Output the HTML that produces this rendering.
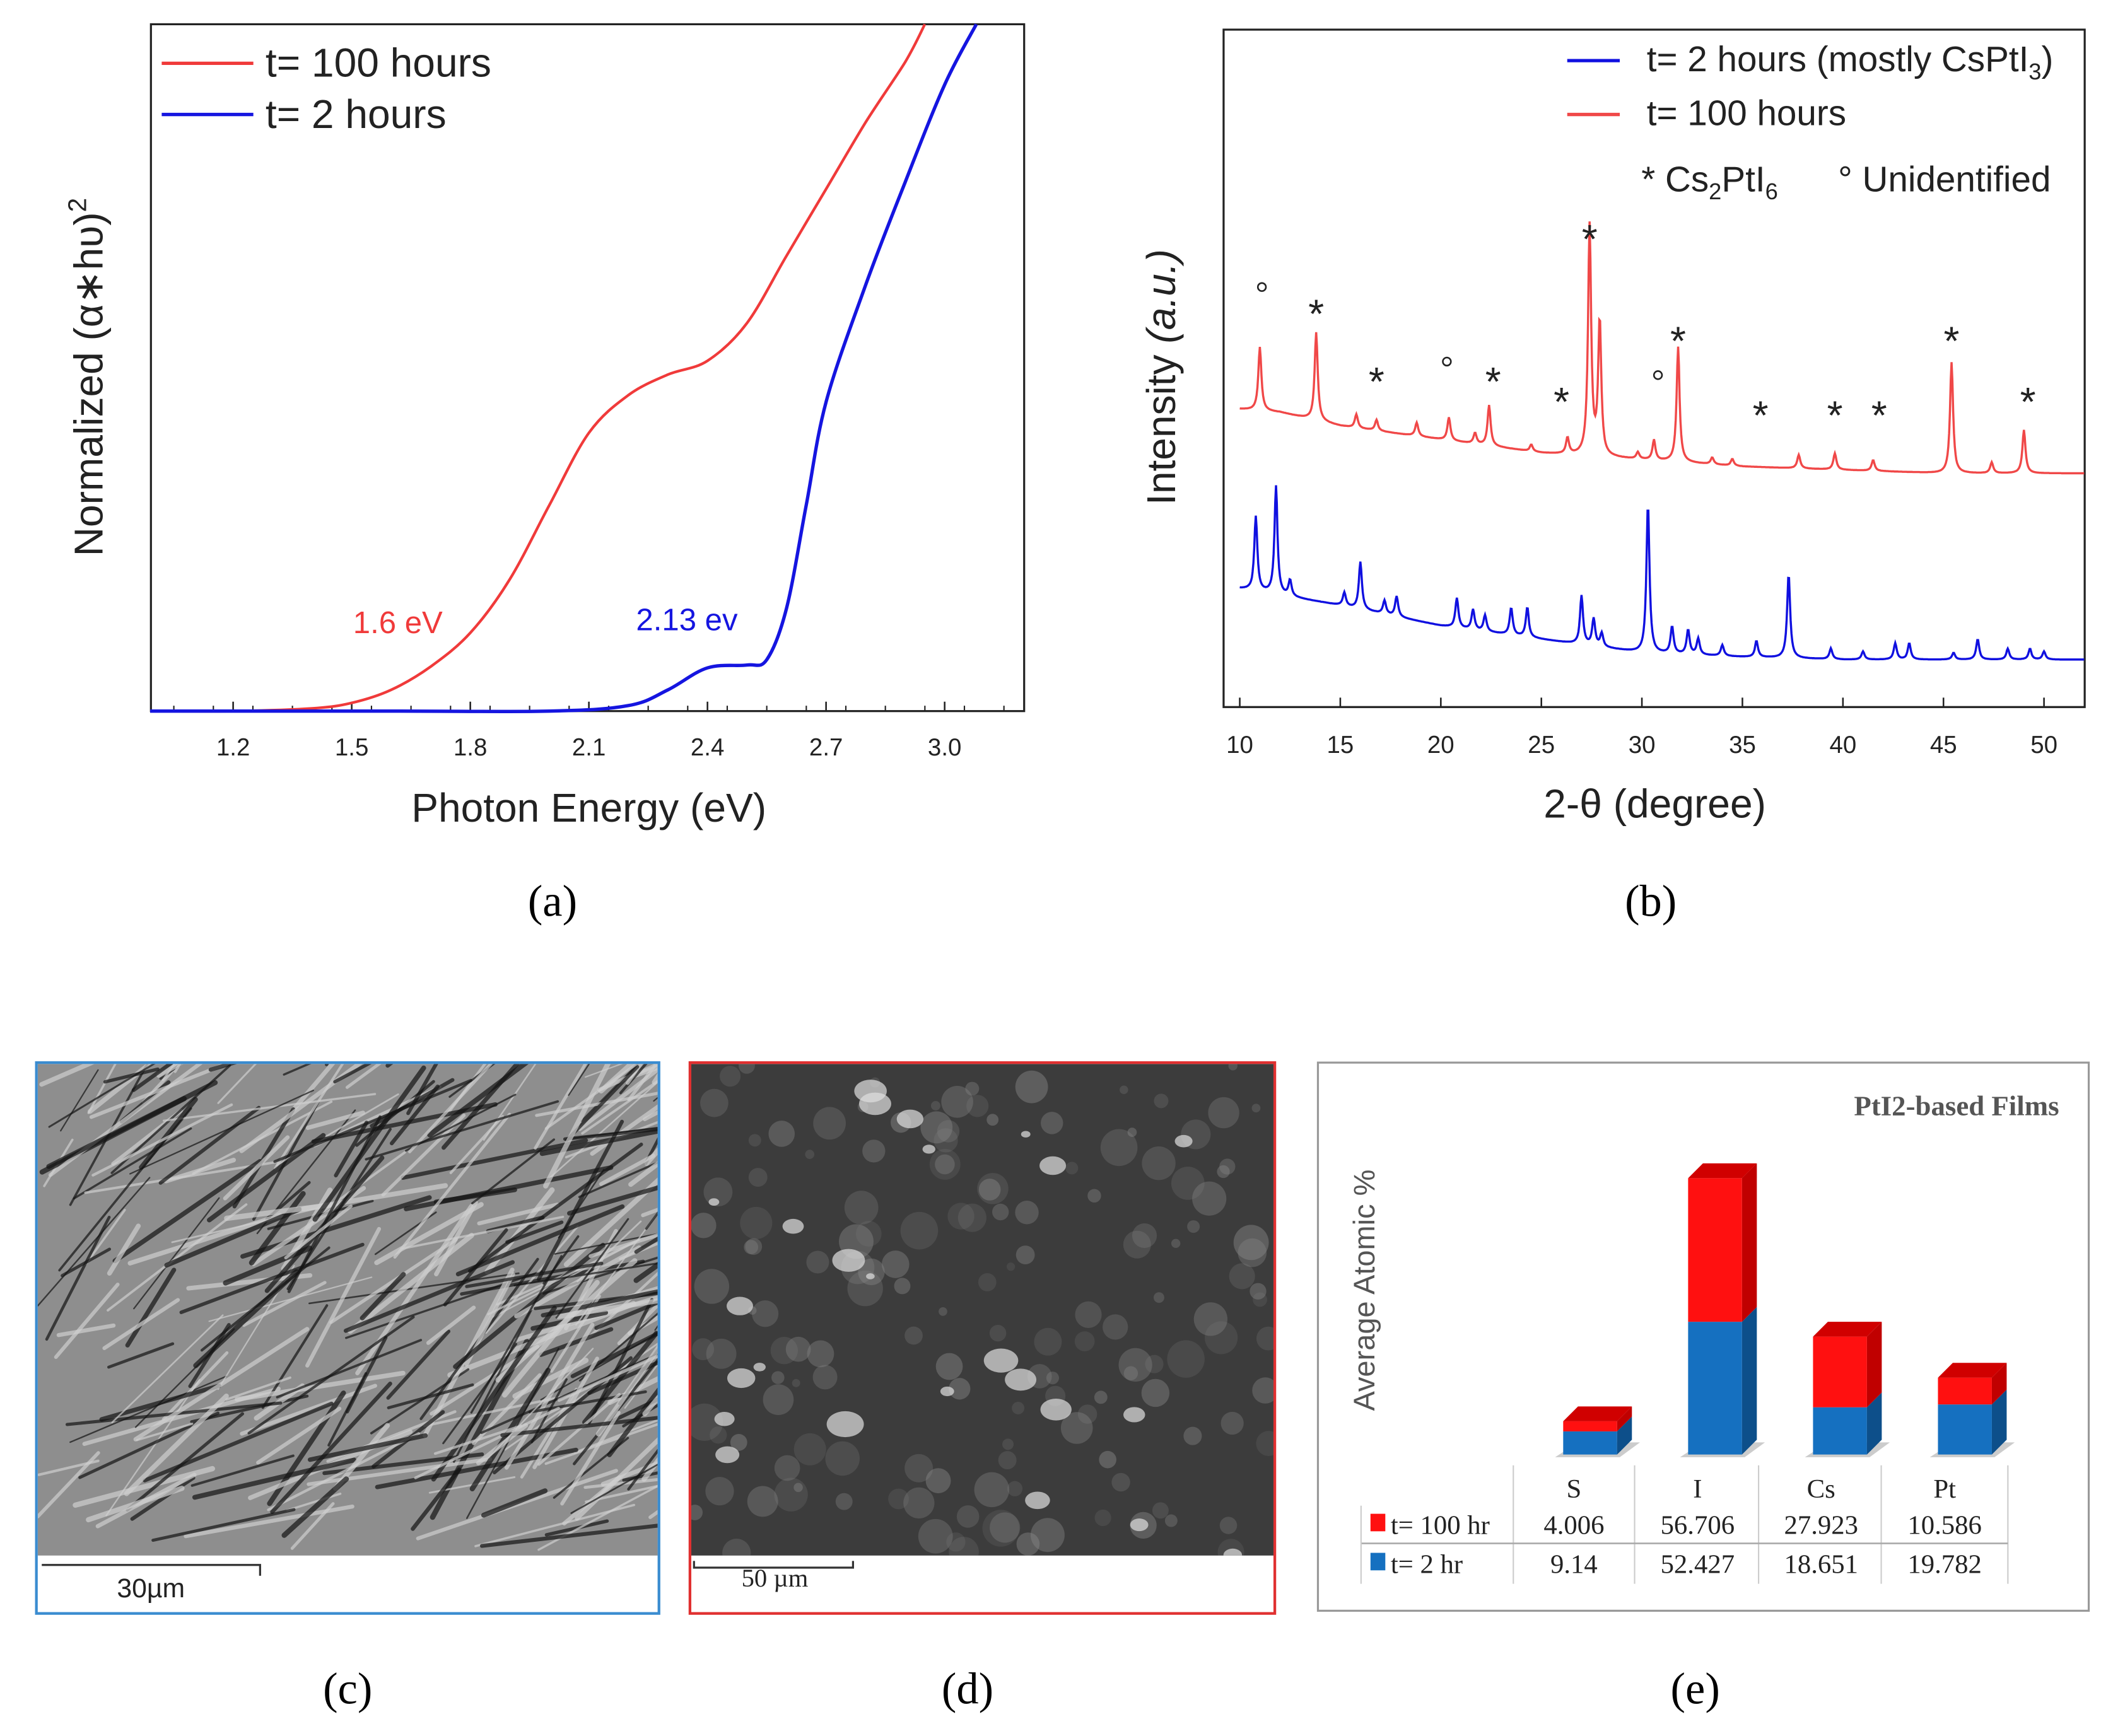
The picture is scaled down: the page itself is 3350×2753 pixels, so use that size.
<!DOCTYPE html>
<html><head><meta charset="utf-8"><style>html,body{margin:0;padding:0;background:#fff}svg{display:block}</style></head>
<body>
<svg id="fig" xmlns="http://www.w3.org/2000/svg" width="3350" height="2753" viewBox="0 0 1568 1289" preserveAspectRatio="none" font-family="Liberation Sans, sans-serif">
<rect width="1568" height="1289" fill="#fff"/>
<!-- Panel a -->
<g>
<rect x="112" y="18" width="648" height="510" fill="none" stroke="#222" stroke-width="1.5"/>
<g id="aTicks"></g>
<path id="aRed" fill="none" stroke="#f03a3a" stroke-width="2"/>
<path id="aBlue" fill="none" stroke="#1515e0" stroke-width="2.5"/>
<line x1="120" y1="47" x2="188" y2="47" stroke="#f03a3a" stroke-width="2.5"/>
<text x="197" y="57" font-size="30" fill="#222">t= 100 hours</text>
<line x1="120" y1="85" x2="188" y2="85" stroke="#1515e0" stroke-width="2.5"/>
<text x="197" y="95" font-size="30" fill="#222">t= 2 hours</text>
<text x="262" y="470" font-size="23" fill="#f03a3a">1.6 eV</text>
<text x="472" y="468" font-size="23" fill="#1515e0">2.13 ev</text>
<text x="437" y="610" font-size="30" fill="#222" text-anchor="middle">Photon Energy (eV)</text>
<text transform="translate(76,280) rotate(-90)" font-size="30" fill="#222" text-anchor="middle">Normalized (α∗hυ)<tspan font-size="19" dy="-12">2</tspan></text>
<text x="410" y="680" font-size="33" font-family="Liberation Serif, serif" text-anchor="middle">(a)</text>
</g>
<!-- Panel b -->
<g>
<rect x="908" y="22" width="639" height="503" fill="none" stroke="#222" stroke-width="1.5"/>
<g id="bTicks"></g>
<path id="bRed" fill="none" stroke="#f04848" stroke-width="1.6"/>
<path id="bBlue" fill="none" stroke="#1010e0" stroke-width="1.6"/>
<line x1="1163" y1="45" x2="1202" y2="45" stroke="#1010e0" stroke-width="2.5"/>
<text x="1222" y="53" font-size="26.5" fill="#222">t= 2 hours (mostly CsPtI<tspan font-size="17" dy="6">3</tspan><tspan dy="-6">)</tspan></text>
<line x1="1163" y1="85" x2="1202" y2="85" stroke="#f04848" stroke-width="2.5"/>
<text x="1222" y="93" font-size="26.5" fill="#222">t= 100 hours</text>
<text x="1218" y="142" font-size="26.5" fill="#222">*  Cs<tspan font-size="17" dy="6">2</tspan><tspan dy="-6">PtI</tspan><tspan font-size="17" dy="6">6</tspan></text>
<text x="1364" y="142" font-size="26.5" fill="#222">°  Unidentified</text>
<g id="bMarks" font-size="30" fill="#222" text-anchor="middle"></g>
<text x="1228" y="607" font-size="30" fill="#222" text-anchor="middle">2-θ (degree)</text>
<text transform="translate(872,280) rotate(-90)" font-size="30" fill="#222" text-anchor="middle">Intensity <tspan font-style="italic">(a.u.)</tspan></text>
<text x="1225" y="680" font-size="33" font-family="Liberation Serif, serif" text-anchor="middle">(b)</text>
</g>
<!-- Panel c -->
<g>
<clipPath id="cc"><rect x="28" y="790" width="460" height="365"/></clipPath>
<rect x="28" y="790" width="460" height="365" fill="#8e8e8e"/>
<g id="cTex" clip-path="url(#cc)"></g>
<rect x="27" y="789" width="462" height="409" fill="none" stroke="#3a8cd0" stroke-width="2"/>
<path d="M31 1162 H193 V1170" fill="none" stroke="#333" stroke-width="1.5"/>
<text x="112" y="1186" font-size="20" text-anchor="middle" fill="#222">30µm</text>
<text x="258" y="1265" font-size="33" font-family="Liberation Serif, serif" text-anchor="middle">(c)</text>
</g>
<!-- Panel d -->
<g>
<clipPath id="dc"><rect x="513" y="790" width="432" height="365"/></clipPath>
<rect x="513" y="790" width="432" height="365" fill="#3c3c3c"/>
<g id="dTex" clip-path="url(#dc)"></g>
<rect x="512" y="789" width="434" height="409" fill="none" stroke="#e03030" stroke-width="2"/>
<path d="M515 1159 V1164 H633 V1159" fill="none" stroke="#333" stroke-width="1.5"/>
<text x="575" y="1178" font-size="19" font-family="Liberation Serif, serif" text-anchor="middle" fill="#222">50 µm</text>
<text x="718" y="1265" font-size="33" font-family="Liberation Serif, serif" text-anchor="middle">(d)</text>
</g>
<!-- Panel e -->
<g font-family="Liberation Serif, serif">
<rect x="978" y="789" width="572" height="407" fill="none" stroke="#999" stroke-width="1.5"/>
<text x="1528" y="828" font-size="21" font-weight="bold" fill="#555" text-anchor="end">PtI2-based Films</text>
<text transform="translate(1020,958) rotate(-90)" font-size="22" fill="#555" text-anchor="middle" font-family="Liberation Sans, sans-serif">Average Atomic %</text>
<g id="eBars"></g>
<g id="eTable" font-size="20" fill="#222"></g>
<text x="1258" y="1265" font-size="33" text-anchor="middle">(e)</text>
</g>
</svg>
<script>
// ---------- Panel a data ----------
const aRedE = [0.99,1.2,1.4,1.5,1.6,1.7,1.8,1.9,2.0,2.1,2.2,2.3,2.4,2.5,2.6,2.7,2.8,2.9,2.95];
const aRedV = [0,0,0.004,0.012,0.031,0.065,0.114,0.192,0.3,0.405,0.46,0.49,0.51,0.565,0.663,0.76,0.857,0.945,1.0];
const aBlueE = [0.99,1.6,2.0,2.2,2.3,2.4,2.5,2.55,2.6,2.65,2.7,2.8,2.9,3.0,3.08];
const aBlueV = [0,0,0,0.008,0.031,0.063,0.067,0.075,0.15,0.3,0.45,0.62,0.77,0.912,1.0];
const aTicks = [1.2,1.5,1.8,2.1,2.4,2.7,3.0];
// ---------- Panel b data ----------
const bBaseX = [10,12,15,20,25,30,35,40,45,52];
const bRedBase = [0.44,0.435,0.415,0.395,0.375,0.365,0.355,0.35,0.345,0.345];
const bBlueBase = [0.175,0.165,0.15,0.12,0.1,0.08,0.074,0.07,0.07,0.07];
const bRedPk = [11.0,13.8,15.8,16.8,18.8,20.4,21.7,22.4,24.5,26.3,27.4,27.9,29.8,30.6,31.8,33.5,34.5,37.8,39.6,41.5,45.4,47.4,49.0];
const bRedH = [0.094,0.13,0.02,0.016,0.02,0.034,0.016,0.06,0.01,0.024,0.34,0.2,0.01,0.03,0.17,0.01,0.01,0.02,0.024,0.016,0.164,0.016,0.064];
const bBluePk = [10.8,11.8,12.5,15.2,16.0,17.2,17.8,20.8,21.6,22.2,23.5,24.3,27.0,27.6,28.0,30.3,31.5,32.3,32.8,34.0,35.7,37.3,39.4,41.0,42.6,43.3,45.5,46.7,48.2,49.3,50.0];
const bBlueH = [0.11,0.16,0.024,0.02,0.07,0.02,0.03,0.044,0.03,0.024,0.04,0.044,0.072,0.04,0.02,0.22,0.04,0.036,0.024,0.016,0.024,0.124,0.016,0.012,0.024,0.024,0.01,0.03,0.016,0.016,0.012];
const bTicks = [10,15,20,25,30,35,40,45,50];
const bStarX = [13.8,16.8,22.6,26.0,27.4,31.8,35.9,39.6,41.8,45.4,49.2];
const bStarY = [0.6,0.5,0.5,0.47,0.71,0.56,0.45,0.45,0.45,0.56,0.47];
const bCircX = [11.1,20.3,30.8];
const bCircY = [0.62,0.51,0.49];
// ---------- Panel e data ----------
const eCats = ['S','I','Cs','Pt'];
const e100 = [4.006,56.706,27.923,10.586];
const e2 = [9.14,52.427,18.651,19.782];

const NS='http://www.w3.org/2000/svg';
function mk(tag,attrs,parent){const e=document.createElementNS(NS,tag);for(const k in attrs)e.setAttribute(k,attrs[k]);parent.appendChild(e);return e;}
function smooth(pts){let d='M'+pts[0][0].toFixed(1)+' '+pts[0][1].toFixed(1);
 for(let i=0;i<pts.length-1;i++){const p0=pts[Math.max(0,i-1)],p1=pts[i],p2=pts[i+1],p3=pts[Math.min(pts.length-1,i+2)];
 const c1=[p1[0]+(p2[0]-p0[0])/6,p1[1]+(p2[1]-p0[1])/6],c2=[p2[0]-(p3[0]-p1[0])/6,p2[1]-(p3[1]-p1[1])/6];
 d+=' C'+c1[0].toFixed(1)+' '+c1[1].toFixed(1)+' '+c2[0].toFixed(1)+' '+c2[1].toFixed(1)+' '+p2[0].toFixed(1)+' '+p2[1].toFixed(1);}return d;}

// Panel a
const ax=e=>173+(e-1.2)/0.3*88, ay=v=>528-v*510;
document.getElementById('aRed').setAttribute('d',smooth(aRedE.map((e,i)=>[ax(e),ay(aRedV[i])])));
document.getElementById('aBlue').setAttribute('d',smooth(aBlueE.map((e,i)=>[ax(e),ay(aBlueV[i])])));
const aT=document.getElementById('aTicks');
aTicks.forEach(t=>{const l=mk('line',{x1:ax(t),x2:ax(t),y1:528,y2:521,stroke:'#222','stroke-width':1.2},aT);
 
 
 const tx=mk('text',{x:ax(t),y:561,'font-size':18,'text-anchor':'middle',fill:'#222'},aT);tx.textContent=t.toFixed(1);
 
 });
for(let t=1.05;t<3.2;t+=0.1){if(ax(t)<760){mk('line',{x1:ax(t),x2:ax(t),y1:528,y2:524,stroke:'#222','stroke-width':1},aT);}}

// Panel b
const bx=d=>920+(d-10)*14.92, by=v=>525-v*503;
function interp(xs,ys,x){for(let i=0;i<xs.length-1;i++){if(x<=xs[i+1]){const t=(x-xs[i])/(xs[i+1]-xs[i]);return ys[i]+t*(ys[i+1]-ys[i]);}}return ys[ys.length-1];}
function xrd(base,pk,h){const pts=[];for(let x=10;x<=52.01;x+=0.04){let v=interp(bBaseX,base,x);
 for(let i=0;i<pk.length;i++){const w=0.09;v+=h[i]*w*w/((x-pk[i])*(x-pk[i])+w*w);}
 pts.push(bx(x).toFixed(1)+','+by(v).toFixed(1));}return 'M'+pts.join(' L');}
document.getElementById('bRed').setAttribute('d',xrd(bRedBase,bRedPk,bRedH));
document.getElementById('bBlue').setAttribute('d',xrd(bBlueBase,bBluePk,bBlueH));
const bT=document.getElementById('bTicks');
bTicks.forEach(t=>{const l=mk('line',{x1:bx(t),x2:bx(t),y1:525,y2:518,stroke:'#222','stroke-width':1.2},bT);
 
 
 const tx=mk('text',{x:bx(t),y:559,'font-size':18,'text-anchor':'middle',fill:'#222'},bT);tx.textContent=t;
 
 });
const bM=document.getElementById('bMarks');
bStarX.forEach((x,i)=>{const t=mk('text',{x:bx(x),y:by(bStarY[i])+20},bM);t.textContent='*';
 
 });
bCircX.forEach((x,i)=>{const c=mk('circle',{cx:bx(x),cy:by(bCircY[i]),r:3,fill:'none',stroke:'#222','stroke-width':1.2},bM);
 
 });

// Panel c texture (decorative)
let seed=7;const rnd=()=>{seed=(seed*16807)%2147483647;return seed/2147483647;};
const cT=document.getElementById('cTex');
for(let i=0;i<320;i++){const x=28+rnd()*460,y=790+rnd()*365,a=-1.1+rnd()*1.0,L=40+rnd()*120;
 mk('line',{x1:x,y1:y,x2:x+Math.cos(a)*L,y2:y+Math.sin(a)*L,stroke:rnd()<0.55?'#151515':'#cfcfcf','stroke-width':1+rnd()*3,'stroke-linecap':'round',opacity:0.7},cT);}
// Panel d texture (decorative)
const dT=document.getElementById('dTex');
for(let i=0;i<150;i++){const x=513+rnd()*432,y=790+rnd()*365,r=3+rnd()*11;
 mk('circle',{cx:x,cy:y,r:r,fill:'#8a8a8a',opacity:0.15+rnd()*0.3},dT);}
for(let i=0;i<25;i++){const x=513+rnd()*432,y=790+rnd()*365,r=3+rnd()*12;
 mk('ellipse',{cx:x,cy:y,rx:r,ry:r*0.7,fill:'#e0e0e0',opacity:0.7},dT);}

// Panel e bars
const eB=document.getElementById('eBars');
const base=1080,k=1.88,cx0=1180,dx=92.7,bw=40,dep=11;
function box(x,y0,y1,front,side,top,name){
 const f=mk('rect',{x:x,y:y1,width:bw,height:y0-y1,fill:front},eB);
 
 
 mk('polygon',{points:`${x+bw},${y1} ${x+bw+dep},${y1-dep} ${x+bw+dep},${y0-dep} ${x+bw},${y0}`,fill:side},eB);
 if(top)mk('polygon',{points:`${x},${y1} ${x+dep},${y1-dep} ${x+bw+dep},${y1-dep} ${x+bw},${y1}`,fill:top},eB);}
eCats.forEach((c,i)=>{const x=cx0+i*dx-bw/2;const yb=base-e2[i]*k,yr=yb-e100[i]*k;
 mk('polygon',{points:`${x-6},${base+2} ${x+bw+2},${base+2} ${x+bw+dep+6},${base-dep+2} ${x+dep},${base-dep+2}`,fill:'#999',opacity:0.5},eB);
 box(x,base,yb,'#1570c0','#0d4f8a',null,'bar-2hr-'+c.toLowerCase());
 box(x,yb,yr,'#ff1010','#c00000','#d00000','bar-100hr-'+c.toLowerCase());});
// table
const eTb=document.getElementById('eTable');
[1123,1213,1305,1396,1490].forEach(x=>mk('line',{x1:x,x2:x,y1:1088,y2:1176,stroke:'#ccc','stroke-width':1},eTb));
mk('line',{x1:1010,x2:1490,y1:1146,y2:1146,stroke:'#aaa','stroke-width':1.2},eTb);
mk('line',{x1:1010,x2:1010,y1:1118,y2:1176,stroke:'#ccc','stroke-width':1},eTb);
eCats.forEach((c,i)=>{const x=1168+i*91.7;
 const h=mk('text',{x:x,y:1112,'text-anchor':'middle'},eTb);h.textContent=c;
 
 
 const a=mk('text',{x:x,y:1139,'text-anchor':'middle'},eTb);a.textContent=e100[i].toString();
 
 
 const b=mk('text',{x:x,y:1168,'text-anchor':'middle'},eTb);b.textContent=e2[i].toString();
 
 });
mk('rect',{x:1017,y:1124,width:11,height:13,fill:'#ff1010'},eTb);
mk('rect',{x:1017,y:1153,width:11,height:13,fill:'#1570c0'},eTb);
const l1=mk('text',{x:1032,y:1139},eTb);l1.textContent='t= 100 hr';


const l2=mk('text',{x:1032,y:1168},eTb);l2.textContent='t= 2 hr';


</script>
</body></html>
